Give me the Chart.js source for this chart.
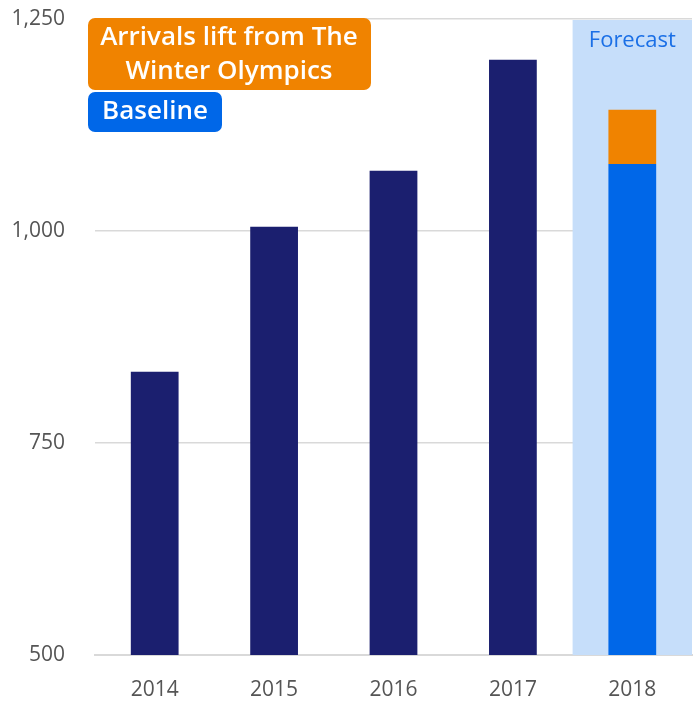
<!DOCTYPE html>
<html>
<head>
<meta charset="utf-8">
<script src="https://cdn.jsdelivr.net/npm/chart.js@4"></script>
<style>
  html, body { margin: 0; padding: 0; background: #fff; }
  #wrap { width: 700px; height: 702px; }
</style>
</head>
<body>
<div id="wrap"><canvas id="grafica" width="700" height="702"></canvas></div>
<script>
// Datos
const years = ['2014', '2015', '2016', '2017', '2018'];
const historico = [834, 1005, 1071, 1202, null];
const baseline = [null, null, null, null, 1079];
const lift = [null, null, null, null, 64];
const yTicks = [500, 750, 1000, 1250];
const forecastYear = '2018';

const labelLift = ['Arrivals lift from The', 'Winter Olympics'];
const labelBase = 'Baseline';
const labelForecast = 'Forecast';

// Colores
const colNavy = '#1b1f6f';
const colBlue = '#0067e8';
const colOrange = '#f08300';
const colShade = '#c6defa';
const fontFam = '"Open Sans", "Noto Sans", sans-serif';

// Sombreado de la zona de pronóstico
const forecastPlugin = {
  id: 'forecast',
  beforeDatasetsDraw(chart) {
    const { ctx, chartArea, scales: { x } } = chart;
    const i = years.indexOf(forecastYear);
    const half = (x.getPixelForValue(1) - x.getPixelForValue(0)) / 2;
    const cx = x.getPixelForValue(i);
    ctx.save();
    ctx.fillStyle = colShade;
    ctx.fillRect(cx - half, chartArea.top + 1, chartArea.right - (cx - half), chartArea.bottom - chartArea.top - 1);
    ctx.fillStyle = '#1a6fe6';
    ctx.font = '22px ' + fontFam;
    ctx.textAlign = 'center';
    ctx.textBaseline = 'middle';
    ctx.fillText(labelForecast, cx, chartArea.top + 22);
    ctx.restore();
  }
};

// Etiquetas tipo leyenda
function caja(ctx, x, y, w, h, color) {
  ctx.fillStyle = color;
  ctx.beginPath();
  ctx.roundRect(x, y, w, h, 7);
  ctx.fill();
}

const etiquetasPlugin = {
  id: 'etiquetas',
  afterDatasetsDraw(chart) {
    const { ctx } = chart;
    ctx.save();
    ctx.font = '600 26px ' + fontFam;
    ctx.textAlign = 'center';
    ctx.textBaseline = 'middle';
    caja(ctx, 88, 18, 283, 72, colOrange);
    ctx.fillStyle = '#fff';
    ctx.fillText(labelLift[0], 229, 38);
    ctx.fillText(labelLift[1], 229, 72);
    caja(ctx, 88, 92, 134, 40, colBlue);
    ctx.fillStyle = '#fff';
    ctx.fillText(labelBase, 155, 112);
    ctx.restore();
  }
};

new Chart(document.getElementById('grafica'), {
  type: 'bar',
  data: {
    labels: years,
    datasets: [
      { label: 'Historical', data: historico, backgroundColor: colNavy },
      { label: labelBase, data: baseline, backgroundColor: colBlue },
      { label: labelLift.join(' '), data: lift, backgroundColor: colOrange }
    ]
  },
  options: {
    responsive: false,
    animation: false,
    layout: { padding: { top: 19, right: 8, bottom: 0, left: 0 } },
    datasets: { bar: { categoryPercentage: 1, barPercentage: 0.4 } },
    plugins: { legend: { display: false }, tooltip: { enabled: false } },
    scales: {
      x: {
        stacked: true,
        grid: { display: false },
        border: { color: '#d9d9d9', width: 2 },
        ticks: { color: '#555', font: { family: fontFam, size: 21 }, padding: 14 },
        afterFit(s) { s.height = 47; s.paddingLeft = 0; s.paddingRight = 0; }
      },
      y: {
        stacked: true,
        min: 500,
        max: 1250,
        afterBuildTicks(s) { s.ticks = yTicks.map(v => ({ value: v })); },
        grid: { color: '#d9d9d9', lineWidth: 1.5, drawTicks: false },
        border: { display: false },
        ticks: {
          color: '#555',
          font: { family: fontFam, size: 21 },
          padding: 30,
          callback: v => v.toLocaleString('en-US')
        },
        afterFit(s) { s.width = 95; s.paddingTop = 0; s.paddingBottom = 0; }
      }
    }
  },
  plugins: [forecastPlugin, etiquetasPlugin]
});
</script>
</body>
</html>
